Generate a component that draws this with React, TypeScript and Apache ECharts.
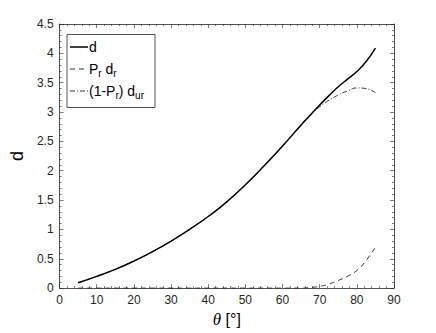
import React, { useEffect, useRef } from "react";
import * as echarts from "echarts";

const theta = [5, 10, 15, 20, 25, 30, 35, 40, 45, 50, 55, 60, 65, 67.5, 70, 72.5, 75, 77.5, 80, 82.5, 85];
const dTotal = [0.09, 0.2, 0.32, 0.46, 0.62, 0.8, 1.0, 1.22, 1.47, 1.76, 2.08, 2.42, 2.78, 2.95, 3.12, 3.28, 3.43, 3.56, 3.69, 3.86, 4.09];
const prDr = [0, 0, 0, 0, 0, 0, 0, 0, 0, 0, 0, 0, 0, 0.01, 0.03, 0.07, 0.13, 0.2, 0.3, 0.47, 0.7];
const prUr = [0.09, 0.2, 0.32, 0.46, 0.62, 0.8, 1.0, 1.22, 1.47, 1.76, 2.08, 2.42, 2.78, 2.95, 3.09, 3.2, 3.29, 3.36, 3.41, 3.4, 3.33];
const xTicks = { min: 0, max: 90, interval: 10 };
const yTicks = { min: 0, max: 4.5, interval: 0.5 };
const legendNames = ["d", "Pr dr", "(1-Pr) dur"];
const legendTexts = ["{a|d}", "{a|P}{s|r}{a| d}{s|r}", "{a|(1-P}{s|r}{a|) d}{s|ur}"];

const AX = "#262626";
const SANS = "Liberation Sans, Arial, sans-serif";

export default function App() {
  const ref = useRef<HTMLDivElement>(null);
  useEffect(() => {
    const chart = echarts.init(ref.current!, null, { renderer: "svg" });
    const pairs = (ys: number[]) => theta.map((t, i) => [t, ys[i]]);
    const axisCommon = {
      axisLine: { show: true, onZero: false, lineStyle: { color: AX, width: 0.8 } },
      axisTick: { show: true, inside: true, length: 4, lineStyle: { color: AX, width: 0.6 } },
      minorTick: { show: true, splitNumber: 5, length: 2, lineStyle: { color: AX, width: 0.6 } },
      splitLine: { show: false },
    };
    const labelStyle = { color: AX, fontSize: 12, fontFamily: SANS };
    const dashes: (number[] | null)[] = [null, [5, 4], [5, 2, 1, 2]];
    const widths = [1.5, 0.8, 0.8];
    const rowY = [47, 69, 91];
    const rich = {
      a: { fontSize: 14, fontFamily: SANS, fill: "#000", color: "#000" },
      s: { fontSize: 10, fontFamily: SANS, fill: "#000", color: "#000", padding: [9, 0, 0, 0] },
    };
    const legendEls: any[] = [
      {
        type: "rect",
        shape: { x: 67, y: 34.5, width: 88, height: 73 },
        style: { fill: "#fff", stroke: AX, lineWidth: 0.8 },
        z: 100,
      },
    ];
    legendNames.forEach((n, i) => {
      legendEls.push({
        type: "line",
        shape: { x1: 70, y1: rowY[i], x2: 88, y2: rowY[i] },
        style: { stroke: "#000", lineWidth: widths[i], lineDash: dashes[i] || undefined },
        z: 101,
      });
      legendEls.push({
        type: "text",
        x: 89,
        y: rowY[i],
        style: { text: legendTexts[i], rich, verticalAlign: "middle", align: "left" },
        z: 101,
      });
    });
    chart.setOption({
      animation: false,
      backgroundColor: "#fff",
      grid: { left: 57, right: 42, top: 24, bottom: 43.5 },
      graphic: legendEls,
      xAxis: [
        {
          type: "value",
          ...xTicks,
          ...axisCommon,
          position: "bottom",
          axisLabel: { ...labelStyle, margin: 6 },
          name: "{t|θ} [°]",
          nameLocation: "middle",
          nameGap: 21,
          nameTextStyle: {
            fontSize: 16,
            color: "#000",
            fontFamily: SANS,
            rich: {
              t: { fontSize: 17, fontStyle: "italic", fontFamily: "Liberation Serif, Times New Roman, serif", color: "#000" },
            },
          },
        },
        {
          type: "value",
          ...xTicks,
          ...axisCommon,
          position: "top",
          axisLabel: { show: false },
        },
      ],
      yAxis: [
        {
          type: "value",
          ...yTicks,
          ...axisCommon,
          position: "left",
          axisLabel: { ...labelStyle, margin: 6 },
          name: "d",
          nameLocation: "middle",
          nameRotate: 90,
          nameGap: 32,
          nameTextStyle: { fontSize: 18, color: "#000", fontFamily: SANS },
        },
        {
          type: "value",
          ...yTicks,
          ...axisCommon,
          position: "right",
          axisLabel: { show: false },
        },
      ],
      series: [
        {
          name: legendNames[0],
          type: "line",
          data: pairs(dTotal),
          smooth: 0.5,
          symbol: "none",
          lineStyle: { color: "#000", width: 1.5, type: "solid" },
        },
        {
          name: legendNames[1],
          type: "line",
          data: pairs(prDr),
          smooth: 0.5,
          symbol: "none",
          lineStyle: { color: "#000", width: 0.8, type: [5, 4] },
        },
        {
          name: legendNames[2],
          type: "line",
          data: pairs(prUr),
          smooth: 0.5,
          symbol: "none",
          lineStyle: { color: "#000", width: 0.8, type: [5, 2, 1, 2] },
        },
      ],
    });
    return () => chart.dispose();
  }, []);
  return <div ref={ref} style={{ width: 436, height: 333, position: "absolute", left: 0, top: 0 }} />;
}
